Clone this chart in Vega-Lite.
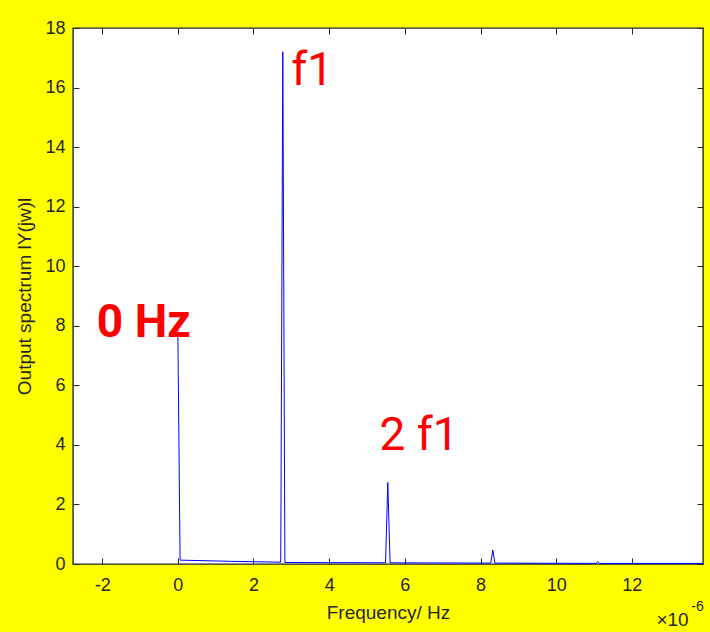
{
  "$schema": "https://vega.github.io/schema/vega-lite/v6.json",
  "width": 630,
  "height": 536,
  "autosize": "none",
  "padding": {"left": 73, "top": 28, "right": 7, "bottom": 68},
  "background": "#ffff00",
  "config": {
    "view": {"fill": "#ffffff", "stroke": "#262626", "strokeWidth": 1.4},
    "axis": {
      "domain": false,
      "grid": false,
      "tickColor": "#262626",
      "tickSize": 6,
      "offset": -6,
      "tickWidth": 1,
      "labelColor": "#262626",
      "labelFont": "Liberation Sans",
      "labelFontSize": 18,
      "titleColor": "#262626",
      "titleFont": "Liberation Sans",
      "titleFontSize": 19,
      "titleFontWeight": "normal"
    }
  },
  "datasets": {
    "spectrum": [
      {"freq": 0.0, "amplitude": 8.0},
      {"freq": 0.06e-6, "amplitude": 0.13},
      {"freq": 1.4e-6, "amplitude": 0.09},
      {"freq": 2.72e-6, "amplitude": 0.06},
      {"freq": 2.775e-6, "amplitude": 17.2},
      {"freq": 2.83e-6, "amplitude": 0.05},
      {"freq": 5.49e-6, "amplitude": 0.04},
      {"freq": 5.55e-6, "amplitude": 2.74},
      {"freq": 5.61e-6, "amplitude": 0.04},
      {"freq": 8.27e-6, "amplitude": 0.03},
      {"freq": 8.325e-6, "amplitude": 0.47},
      {"freq": 8.38e-6, "amplitude": 0.03},
      {"freq": 11.05e-6, "amplitude": 0.02},
      {"freq": 11.1e-6, "amplitude": 0.08},
      {"freq": 11.15e-6, "amplitude": 0.02},
      {"freq": 13.9e-6, "amplitude": 0.02}
    ],
    "labels": [
      {"label": "f1", "freq": 3.0e-6, "amplitude": 16.55},
      {"label": "2 f1", "freq": 5.33e-6, "amplitude": 4.3}
    ],
    "dc": [
      {"label": "0 Hz", "freq": -2.14e-6, "amplitude": 8.1}
    ]
  },
  "resolve": {"axis": {"x": "independent", "y": "independent"}},
  "layer": [
    {
      "data": {"name": "spectrum"},
      "mark": {"type": "line", "color": "#0000ff", "strokeWidth": 1, "clip": true},
      "encoding": {
        "x": {
          "field": "freq",
          "type": "quantitative",
          "scale": {"domain": [-2.77e-6, 13.88e-6], "nice": false, "zero": false},
          "axis": {
            "orient": "bottom",
            "title": "Frequency/ Hz",
            "titlePadding": 9,
            "values": [-2e-6, 0, 2e-6, 4e-6, 6e-6, 8e-6, 10e-6, 12e-6],
            "labelExpr": "'' + round(datum.value * 1e6)",
            "labelPadding": 12
          }
        },
        "y": {
          "field": "amplitude",
          "type": "quantitative",
          "scale": {"domain": [0, 18], "nice": false},
          "axis": {
            "orient": "left",
            "title": "Output spectrum lY(jw)l",
            "titlePadding": 10,
            "values": [0, 2, 4, 6, 8, 10, 12, 14, 16, 18],
            "labelPadding": 8
          }
        }
      }
    },
    {
      "data": {"name": "labels"},
      "mark": {"type": "text", "color": "#ff0000", "font": "Roboto", "fontSize": 46, "align": "left", "baseline": "middle"},
      "encoding": {
        "x": {
          "field": "freq",
          "type": "quantitative",
          "axis": {
            "orient": "top",
            "title": null,
            "labels": false,
            "values": [-2e-6, 0, 2e-6, 4e-6, 6e-6, 8e-6, 10e-6, 12e-6]
          }
        },
        "y": {
          "field": "amplitude",
          "type": "quantitative",
          "axis": {
            "orient": "right",
            "title": null,
            "labels": false,
            "values": [0, 2, 4, 6, 8, 10, 12, 14, 16, 18]
          }
        },
        "text": {"field": "label"}
      }
    },
    {
      "data": {"name": "dc"},
      "mark": {"type": "text", "color": "#ff0000", "font": "Roboto", "fontSize": 46, "fontWeight": "bold", "align": "left", "baseline": "middle"},
      "encoding": {
        "x": {"field": "freq", "type": "quantitative", "axis": null},
        "y": {"field": "amplitude", "type": "quantitative", "axis": null},
        "text": {"field": "label"}
      }
    },
    {
      "data": {"values": [{"text": "×10", "freq": 13.5e-6, "amplitude": -1.88}]},
      "mark": {"type": "text", "color": "#262626", "font": "Liberation Sans", "fontSize": 19, "align": "right", "baseline": "middle"},
      "encoding": {
        "x": {"field": "freq", "type": "quantitative", "axis": null},
        "y": {"field": "amplitude", "type": "quantitative", "axis": null},
        "text": {"field": "text"}
      }
    },
    {
      "data": {"values": [{"text": "-6", "freq": 13.9e-6, "amplitude": -1.43}]},
      "mark": {"type": "text", "color": "#262626", "font": "Liberation Sans", "fontSize": 14, "align": "right", "baseline": "middle"},
      "encoding": {
        "x": {"field": "freq", "type": "quantitative", "axis": null},
        "y": {"field": "amplitude", "type": "quantitative", "axis": null},
        "text": {"field": "text"}
      }
    }
  ]
}
